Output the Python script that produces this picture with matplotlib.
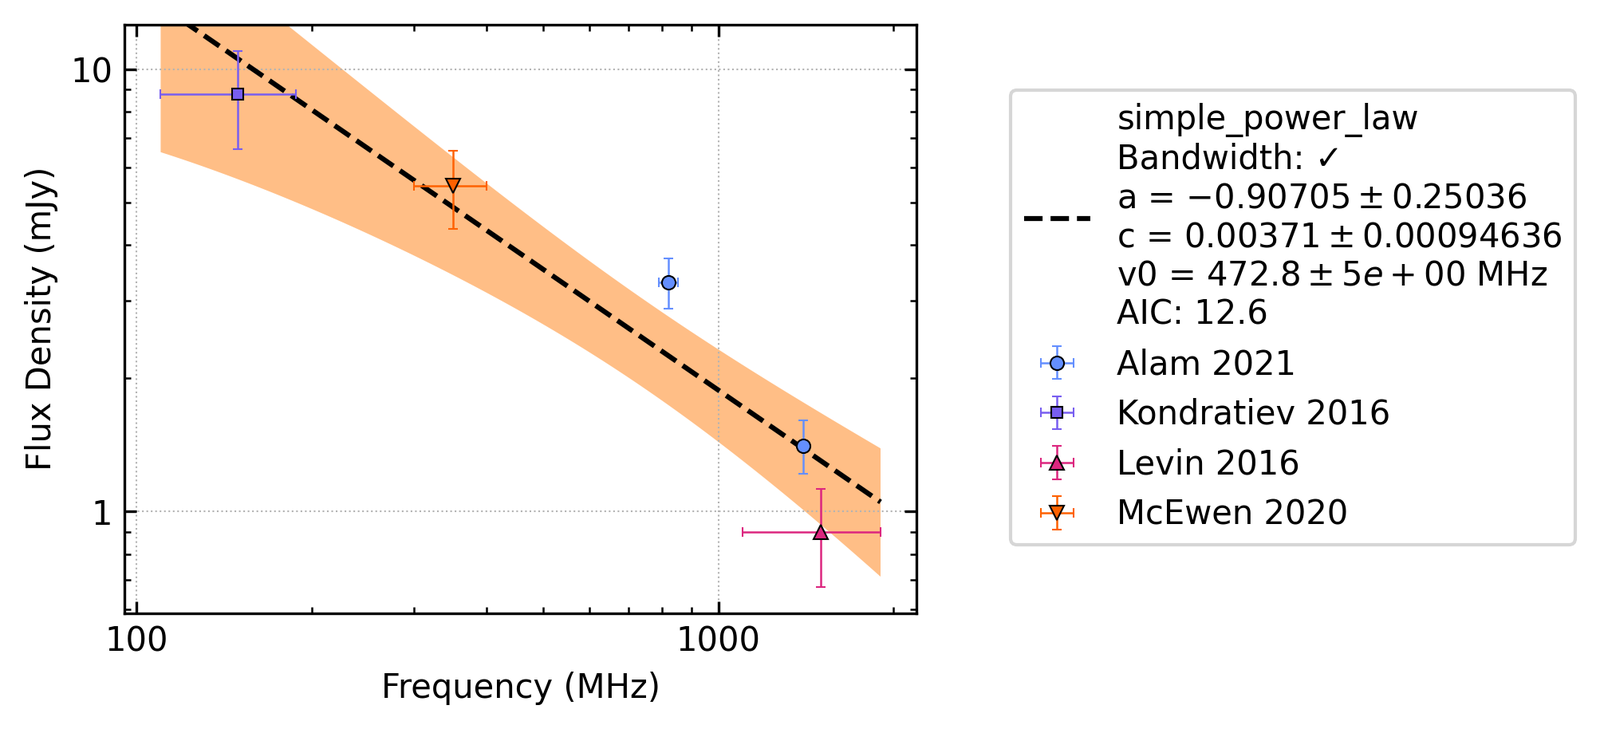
import numpy as np
import matplotlib
matplotlib.use("Agg")
import matplotlib.pyplot as plt
from matplotlib.ticker import FormatStrFormatter, NullFormatter

# Measurements per survey (frequency in MHz, flux density in mJy)
surveys = ["Alam 2021", "Kondratiev 2016", "Levin 2016", "McEwen 2020"]
freqs = [[820, 1400], [149], [1500], [350]]
half_bandwidths = [[31, 25], [39], [400], [50]]
fluxes = [[3.3, 1.41], [8.8], [0.9], [5.44]]
flux_errs = [[0.43, 0.195], [2.2], [0.225], [1.09]]
colours = ["#648FFF", "#785EF0", "#DC267F", "#FE6100"]
markers = ["o", "s", "^", "v"]
marker_sizes = [4.1, 3.5, 4.1, 4.1]

# simple power law fit result
model_name = "simple_power_law"
a, a_err = -0.90705, 0.25036
c, c_err = 0.00371, 0.00094636   # Jy
v0, v0_err = 472.8, 5.0          # MHz
a_c_corr = -0.465
aic = 12.6
fit_fmin, fit_fmax = 110, 1900


def power_law_with_err(f):
    x = f / v0
    s = c * x ** a
    ds_dc = x ** a
    ds_da = c * x ** a * np.log(x)
    var = (ds_dc * c_err) ** 2 + (ds_da * a_err) ** 2 \
        + 2 * a_c_corr * ds_dc * ds_da * c_err * a_err
    return s * 1e3, np.sqrt(var) * 1e3


fig = plt.figure(figsize=(2006 / 300, 914 / 300), dpi=300)
ax = fig.add_axes([156 / 2006, 1 - 768.5 / 914, 993 / 2006, 738 / 914])

fitted_freq = np.logspace(np.log10(fit_fmin), np.log10(fit_fmax), 100)
fitted_flux, fitted_err = power_law_with_err(fitted_freq)

ax.fill_between(fitted_freq, fitted_flux - fitted_err, fitted_flux + fitted_err,
                facecolor="C1", alpha=0.5, linewidth=0)
fit_label = (f"{model_name}\nBandwidth: \u2713\n"
             f"a = ${a} \\pm {a_err}$\n"
             f"c = ${c} \\pm {c_err}$\n"
             f"v0 = ${v0:.1f} \\pm {v0_err:.0e}$ MHz\n"
             f"AIC: {aic}")
ax.plot(fitted_freq, fitted_flux, "k--", lw=1.5, label=fit_label)

for name, f, bw, s, se, col, m, ms in zip(surveys, freqs, half_bandwidths, fluxes,
                                           flux_errs, colours, markers, marker_sizes):
    ax.errorbar(f, s, xerr=bw, yerr=se, fmt=m, color=col, ms=ms,
                markeredgecolor="black", markeredgewidth=0.5,
                elinewidth=0.6, capsize=1.5, capthick=0.6, label=name)

ax.set_xscale("log")
ax.set_yscale("log")
ax.set_xlim(95.3, 2190)
ax.set_ylim(0.5897, 12.63)

for axis in (ax.xaxis, ax.yaxis):
    axis.set_major_formatter(FormatStrFormatter("%g"))
    axis.set_minor_formatter(NullFormatter())
ax.tick_params(which="both", direction="in", top=True, right=True)
ax.grid(True, which="major", linestyle=":", color="0.7", linewidth=0.5)

ax.set_xlabel("Frequency (MHz)")
ax.set_ylabel("Flux Density (mJy)")
ax.yaxis.set_label_coords(-0.084, 0.5)

ax.legend(loc="center left", bbox_to_anchor=(1267 / 2006, 1 - 398 / 914),
          bbox_transform=fig.transFigure, borderaxespad=0, fontsize=10)

fig.savefig("out.png", dpi=300)
